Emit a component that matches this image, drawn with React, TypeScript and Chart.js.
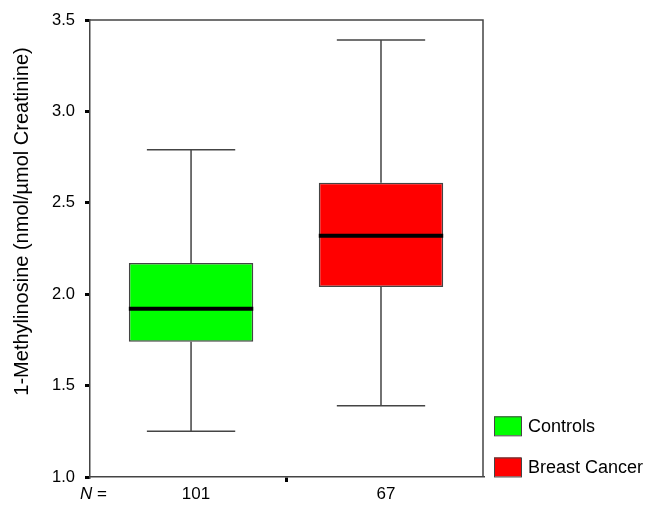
import React, { useEffect, useRef } from "react";
import { Chart, registerables } from "chart.js";

Chart.register(...registerables);

const categories = ["Controls", "Breast Cancer"];
const nLabels = ["101", "67"];
const mins = [1.25, 1.39];
const q1s = [1.74, 2.04];
const medians = [1.92, 2.32];
const q3s = [2.17, 2.61];
const maxs = [2.79, 3.39];
const boxColors = ["#00ff00", "#ff0000"];
const yTitle = "1-Methylinosine (nmol/µmol Creatinine)";

const FONT = "'Liberation Sans', Arial, sans-serif";

const boxPlugin = {
  id: "boxExtras",
  afterDatasetsDraw(chart: any) {
    const { ctx, chartArea, scales } = chart;
    const x = scales.x;
    const y = scales.y;
    const meta = chart.getDatasetMeta(0);
    ctx.save();
    // frame top & right
    ctx.strokeStyle = "#444";
    ctx.lineWidth = 1.5;
    ctx.beginPath();
    ctx.moveTo(chartArea.left, chartArea.top);
    ctx.lineTo(chartArea.right, chartArea.top);
    ctx.lineTo(chartArea.right, chartArea.bottom);
    ctx.stroke();

    categories.forEach((_, i) => {
      const el = meta.data[i];
      const cx = el.x;
      const bw = el.width;
      const capHalf = bw * 0.355;
      ctx.strokeStyle = "#444";
      ctx.lineWidth = 1.5;
      ctx.beginPath();
      ctx.moveTo(cx, y.getPixelForValue(q3s[i]));
      ctx.lineTo(cx, y.getPixelForValue(maxs[i]));
      ctx.moveTo(cx - capHalf, y.getPixelForValue(maxs[i]));
      ctx.lineTo(cx + capHalf, y.getPixelForValue(maxs[i]));
      ctx.moveTo(cx, y.getPixelForValue(q1s[i]));
      ctx.lineTo(cx, y.getPixelForValue(mins[i]));
      ctx.moveTo(cx - capHalf, y.getPixelForValue(mins[i]));
      ctx.lineTo(cx + capHalf, y.getPixelForValue(mins[i]));
      ctx.stroke();
      // median
      ctx.strokeStyle = "#000";
      ctx.lineWidth = 4;
      ctx.beginPath();
      const my = y.getPixelForValue(medians[i]);
      ctx.moveTo(cx - bw / 2, my);
      ctx.lineTo(cx + bw / 2, my);
      ctx.stroke();
    });

    // legend
    ctx.font = `18px ${FONT}`;
    ctx.textBaseline = "middle";
    ctx.textAlign = "left";
    const legX = chartArea.right + 11;
    const legYs = [y.getPixelForValue(1.28), y.getPixelForValue(1.055)];
    categories.forEach((c, i) => {
      const ly = legYs[i];
      ctx.fillStyle = boxColors[i];
      ctx.fillRect(legX, ly - 9.5, 27, 19);
      ctx.strokeStyle = "#444";
      ctx.lineWidth = 1;
      ctx.strokeRect(legX + 0.5, ly - 9.5 + 0.5, 27, 19);
      ctx.fillStyle = "#000";
      ctx.fillText(c, legX + 34, ly + 1);
    });

    // N =
    const ny = x.top + 17;
    ctx.font = `italic 17px ${FONT}`;
    ctx.fillStyle = "#000";
    ctx.textAlign = "left";
    ctx.fillText("N", 80, ny);
    const nw = ctx.measureText("N").width;
    ctx.font = `17px ${FONT}`;
    ctx.fillText(" =", 80 + nw, ny);

    // y title
    ctx.save();
    ctx.translate(22, (y.getPixelForValue(3.5) + y.getPixelForValue(1.0)) / 2 - 27);
    ctx.rotate(-Math.PI / 2);
    ctx.font = `20px ${FONT}`;
    ctx.textAlign = "center";
    ctx.textBaseline = "middle";
    ctx.fillStyle = "#000";
    ctx.fillText(yTitle, 0, 0);
    ctx.restore();
    ctx.restore();
  },
};

export default function App() {
  const ref = useRef<HTMLCanvasElement | null>(null);
  useEffect(() => {
    if (!ref.current) return;
    const chart = new Chart(ref.current, {
      type: "bar",
      data: {
        datasets: [
          {
            label: "IQR",
            data: categories.map((_, i) => ({ x: i, y: [q1s[i], q3s[i]] })) as any,
            backgroundColor: boxColors,
            borderColor: "#444",
            borderWidth: 1.5,
            borderSkipped: false,
            barPercentage: 1.31,
            categoryPercentage: 1,
          },
        ],
      },
      options: {
        animation: false,
        responsive: false,
        devicePixelRatio: 1,
        layout: { padding: { top: 20, right: 165, left: 0, bottom: 0 } },
        plugins: { legend: { display: false }, tooltip: { enabled: false } },
        scales: {
          x: {
            type: "linear",
            offset: false,
            min: -0.532,
            max: 1.537,
            afterBuildTicks: (s: any) => {
              s.ticks = [{ value: 0 }, { value: 0.5 }, { value: 1 }];
            },
            grid: {
              offset: false,
              drawOnChartArea: false,
              color: (c: any) => (c.tick && c.tick.value === 0.5 ? "#000" : "rgba(0,0,0,0)"),
              lineWidth: 3,
              tickLength: 5,
            },
            border: { display: true, color: "#444", width: 1.5 },
            ticks: {
              callback: (v: any) => (Number.isInteger(v) ? nLabels[v] : ""),
              font: { family: FONT, size: 17 },
              color: "#000",
              padding: 2,
              labelOffset: 5,
              maxRotation: 0,
              autoSkip: false,
            },
            afterFit: (s: any) => {
              s.height = 31;
            },
          },
          y: {
            min: 1,
            max: 3.5,
            ticks: {
              stepSize: 0.5,
              callback: (v: any) => Number(v).toFixed(1),
              font: { family: FONT, size: 16.5 },
              color: "#000",
              padding: 10,
            },
            grid: { drawOnChartArea: false, tickLength: 5, lineWidth: 3, color: "#000" },
            border: { color: "#444", width: 1.5 },
            afterFit: (s: any) => {
              s.width = 90;
            },
          },
        },
      },
      plugins: [boxPlugin],
    });
    return () => chart.destroy();
  }, []);
  return (
    <div style={{ position: "fixed", left: 0, top: 0, width: 648, height: 508, background: "#fff" }}>
      <canvas ref={ref} width={648} height={508} style={{ width: 648, height: 508 }} />
    </div>
  );
}
